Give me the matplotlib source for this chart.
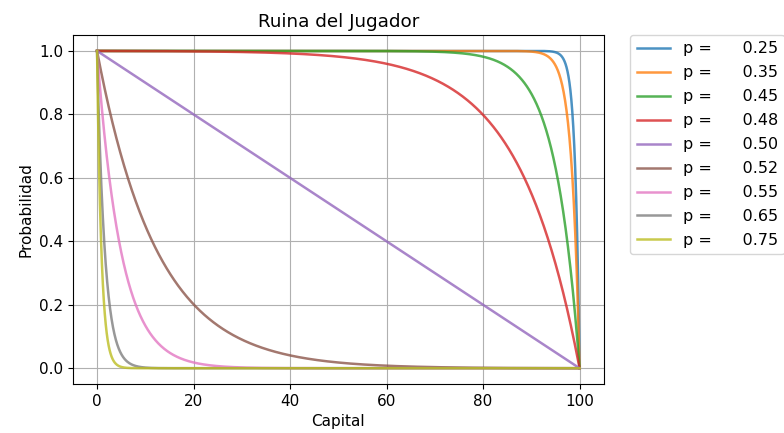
import matplotlib
matplotlib.use("Agg")
import matplotlib.pyplot as plt
import numpy as np

# win probabilities and target capital
probs = [0.25, 0.35, 0.45, 0.48, 0.50, 0.52, 0.55, 0.65, 0.75]
N = 100
capital = np.linspace(0, N, 1000)


def ruin(p, k, n):
    """Probability of ruin starting with capital k, target n."""
    if p == 0.5:
        return 1 - k / n
    r = (1 - p) / p
    return (r ** k - r ** n) / (1 - r ** n)


plt.rcParams["font.size"] = 11

fig = plt.figure(figsize=(7.84, 4.33), dpi=100)
ax = fig.add_axes([0.093, 0.113, 0.677, 0.806])

for p in probs:
    ax.plot(capital, ruin(p, capital, N), alpha=0.8, lw=1.8,
            label="p = %9.2f" % p)

ax.set_title("Ruina del Jugador")
ax.set_xlabel("Capital")
ax.set_ylabel("Probabilidad")
ax.grid(True)
ax.legend(bbox_to_anchor=(1.05, 1), loc=2, borderaxespad=0.0, fontsize=11.5,
          labelspacing=0.56, handlelength=2.1)

fig.savefig("out.png", dpi=100)
